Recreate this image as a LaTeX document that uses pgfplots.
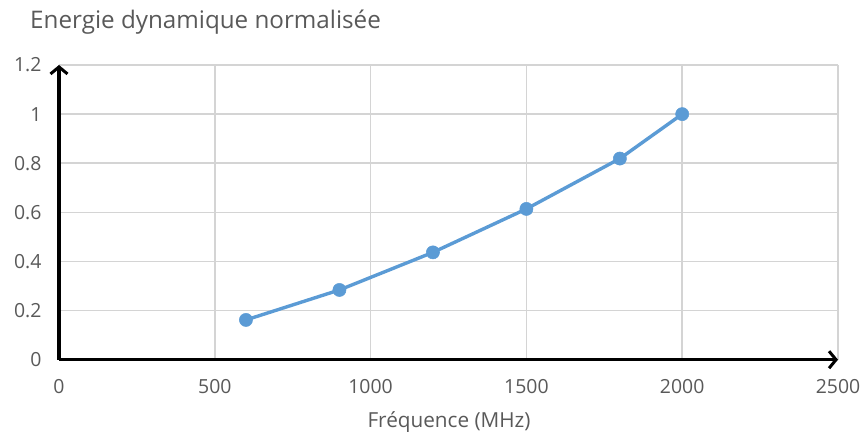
\documentclass[border=0pt]{standalone}
\usepackage{pgfplots}
\pgfplotsset{compat=1.18}
\usetikzlibrary{arrows.meta}
\usepackage{fontspec}
\setmainfont{Open Sans}
\definecolor{txtgray}{HTML}{595959}
\definecolor{gridgray}{HTML}{D4D4D4}
\definecolor{serblue}{HTML}{5B9BD5}
\begin{document}
\begin{tikzpicture}
\useasboundingbox (0,0) rectangle (860bp,432bp);
\begin{axis}[
  at={(59bp,72.3bp)}, anchor=south west,
  scale only axis, width=779bp, height=294.7bp,
  xmin=0, xmax=2500, ymin=0, ymax=1.2,
  axis lines=left,
  axis line style={line width=3.2bp, black},
  x axis line style={-{Straight Barb[length=7bp,width=17bp,line width=3bp]}},
  y axis line style={-{Straight Barb[length=7bp,width=17bp,line width=3bp]}},
  xtick={0,500,1000,1500,2000,2500},
  ytick={0,0.2,0.4,0.6,0.8,1,1.2},
  yticklabels={0,0.2,0.4,0.6,0.8,1,1.2},
  major tick length=0pt,
  grid=major,
  major grid style={gridgray, line width=1.6bp},
  /pgf/number format/1000 sep={},
  /pgf/number format/assume math mode=true,
  ticklabel style={font=\fontsize{19.5}{23}\selectfont, text=txtgray},
  xticklabel style={yshift=-16bp},
  yticklabel style={xshift=-14bp},
  clip=false,
]
\addplot[serblue, line width=3.4bp, mark=*, mark size=6.6bp, mark options={fill=serblue, draw=serblue, line width=0.5bp}]
  coordinates {(600,0.162) (900,0.284) (1200,0.437) (1500,0.614) (1800,0.819) (2000,1.0)};
\end{axis}
\node[anchor=base west, text=txtgray, inner sep=0pt, font=\fontsize{24.3}{29}\selectfont] at (30bp,403.7bp) {Energie dynamique normalisée};
\node[anchor=base, text=txtgray, inner sep=0pt, font=\fontsize{20.8}{25}\selectfont] at (449bp,4.5bp) {Fréquence (MHz)};
\end{tikzpicture}
\end{document}
